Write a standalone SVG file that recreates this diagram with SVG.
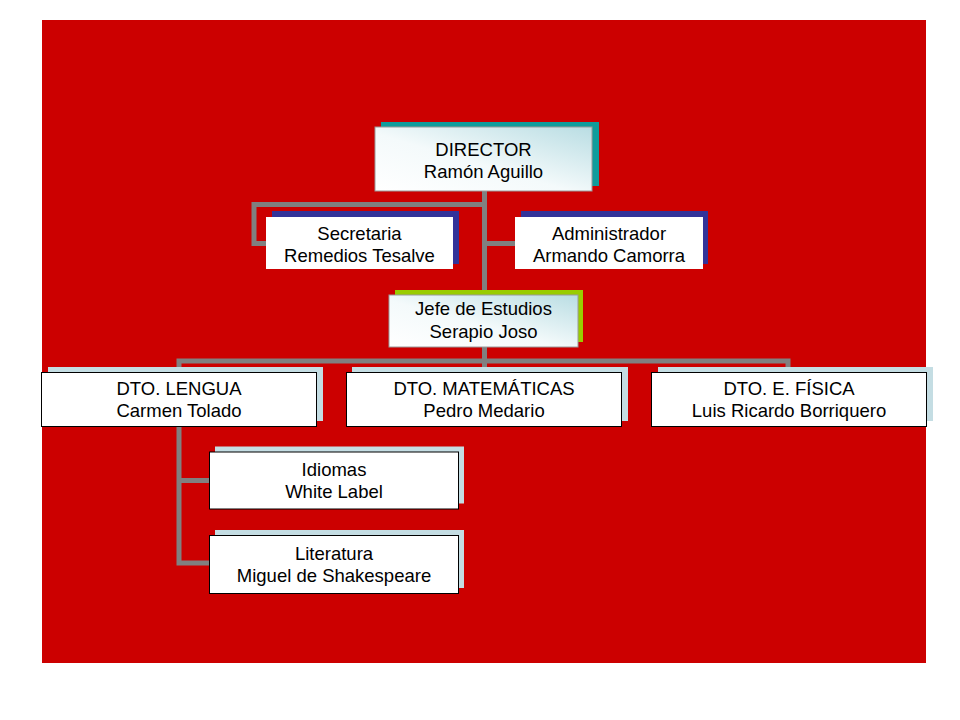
<svg xmlns="http://www.w3.org/2000/svg" width="960" height="720" viewBox="0 0 960 720">
<defs>
<linearGradient id="g" x1="0" y1="1" x2="1" y2="0">
<stop offset="0" stop-color="#ffffff"/>
<stop offset="0.45" stop-color="#f4fafb"/>
<stop offset="1" stop-color="#b9dde3"/>
</linearGradient>
<style>
text{font-family:"Liberation Sans",Arial,sans-serif;font-size:18.5px;fill:#000;text-anchor:middle}
.conn{fill:none;stroke:#808080;stroke-width:5}
.box{stroke:#000;stroke-width:1}
.grad{fill:url(#g);stroke:#9a9a9a;stroke-width:1}
.wh{fill:#fff}
.sh-teal{fill:#109c9c}
.sh-blue{fill:#333399}
.sh-lime{fill:#99cc00}
.sh-light{fill:#c4dde3}
</style>
</defs>
<rect width="960" height="720" fill="#fff"/>
<rect x="42" y="20" width="884" height="643" fill="#cc0000"/>
<g id="connectors">
<path class="conn" d="M484.5,191 V295"/>
<path class="conn" d="M484.5,204.5 H254 V243.5 H266"/>
<path class="conn" d="M484.5,243.5 H516"/>
<path class="conn" d="M484.5,347 V372"/>
<path class="conn" d="M179,372 V361 H788 V372"/>
<path class="conn" d="M179,426 V563 H210"/>
<path class="conn" d="M179,480.5 H210"/>
</g>
<g id="director">
<rect class="sh-teal" x="381" y="122" width="218" height="64"/>
<rect class="grad" x="375" y="127" width="217" height="64"/>
<text x="483.5" y="156">DIRECTOR</text>
<text x="483.5" y="177.5">Ramón Aguillo</text>
</g>
<g id="secretaria">
<rect class="sh-blue" x="272" y="211" width="187" height="53"/>
<rect class="wh" x="266" y="217" width="187" height="52"/>
<text x="359.5" y="239.5">Secretaria</text>
<text x="359.5" y="261.5">Remedios Tesalve</text>
</g>
<g id="administrador">
<rect class="sh-blue" x="521" y="211" width="187" height="53"/>
<rect class="wh" x="515" y="217" width="188" height="52"/>
<text x="609" y="239.5">Administrador</text>
<text x="609" y="261.5">Armando Camorra</text>
</g>
<g id="jefe">
<rect class="sh-lime" x="395" y="290" width="188" height="52"/>
<rect class="grad" x="389" y="295" width="189" height="52"/>
<text x="483.5" y="314.5">Jefe de Estudios</text>
<text x="483.5" y="338">Serapio Joso</text>
</g>
<g id="lengua">
<rect class="sh-light" x="48" y="367" width="275" height="54"/>
<rect class="wh box" x="41.5" y="372.5" width="275" height="54"/>
<text x="179" y="395">DTO. LENGUA</text>
<text x="179" y="416.5">Carmen Tolado</text>
</g>
<g id="matematicas">
<rect class="sh-light" x="352" y="367" width="276" height="54"/>
<rect class="wh box" x="346.5" y="372.5" width="275" height="54"/>
<text x="484" y="395">DTO. MATEMÁTICAS</text>
<text x="484" y="416.5">Pedro Medario</text>
</g>
<g id="fisica">
<rect class="sh-light" x="658" y="367" width="275" height="54"/>
<rect class="wh box" x="651.5" y="372.5" width="275" height="54"/>
<text x="789" y="395">DTO. E. FÍSICA</text>
<text x="789" y="416.5">Luis Ricardo Borriquero</text>
</g>
<g id="idiomas">
<rect class="sh-light" x="215" y="446.5" width="249" height="57"/>
<rect class="wh box" x="209.5" y="452" width="249" height="57"/>
<text x="334" y="475.5">Idiomas</text>
<text x="334" y="498">White Label</text>
</g>
<g id="literatura">
<rect class="sh-light" x="215" y="530" width="249" height="58"/>
<rect class="wh box" x="209.5" y="535.5" width="249" height="58"/>
<text x="334" y="560">Literatura</text>
<text x="334" y="582">Miguel de Shakespeare</text>
</g>
</svg>
